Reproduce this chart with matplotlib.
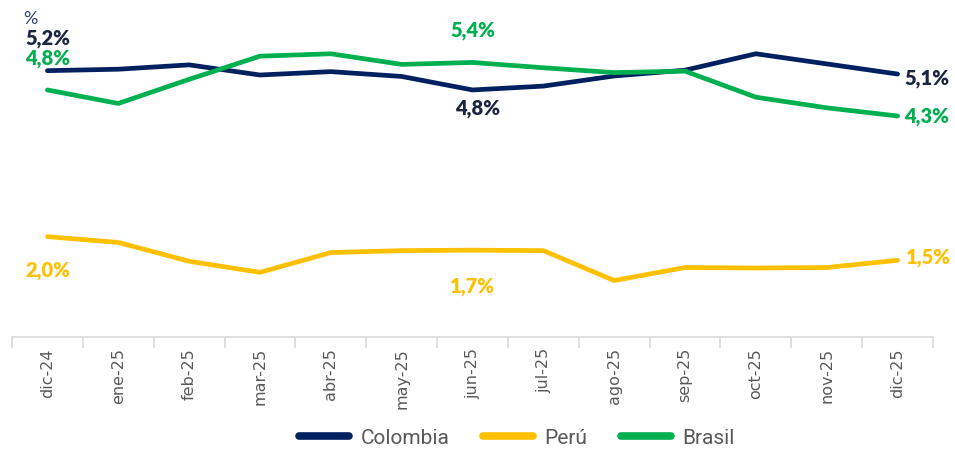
import matplotlib.pyplot as plt
import numpy as np

# Monthly values (%)
meses = ['dic-24', 'ene-25', 'feb-25', 'mar-25', 'abr-25', 'may-25', 'jun-25',
         'jul-25', 'ago-25', 'sep-25', 'oct-25', 'nov-25', 'dic-25']
colombia = [5.20, 5.23, 5.32, 5.11, 5.18, 5.08, 4.80, 4.88, 5.09, 5.21, 5.55, 5.34, 5.13]
brasil = [4.80, 4.52, 5.02, 5.50, 5.55, 5.33, 5.37, 5.26, 5.16, 5.19, 4.65, 4.43, 4.26]
peru = [2.00, 1.88, 1.49, 1.26, 1.67, 1.71, 1.72, 1.71, 1.09, 1.36, 1.35, 1.36, 1.51]

c_col = '#002060'
c_per = '#FFC000'
c_bra = '#00B050'
lbl_font = ['Lato', 'DejaVu Sans']
leg_font = ['Liberation Sans Narrow', 'Roboto', 'DejaVu Sans']

fig = plt.figure(figsize=(9.55, 4.53), dpi=100)
ax = fig.add_axes([12 / 955, 1 - 337 / 453, 921 / 955, 317 / 453])
ax2 = ax.twinx()  # Peru on a hidden secondary axis

x = np.arange(len(meses))
l1, = ax.plot(x, colombia, color=c_col, lw=3.4, solid_capstyle='round', solid_joinstyle='round', label='Colombia')
l3, = ax.plot(x, brasil, color=c_bra, lw=3.4, solid_capstyle='round', solid_joinstyle='round', label='Brasil')
l2, = ax2.plot(x, peru, color=c_per, lw=3.4, solid_capstyle='round', solid_joinstyle='round', label='Perú')

ax.set_xlim(-0.5, len(meses) - 0.5)
ax.set_ylim(-0.32, 6.25)
ax2.set_ylim(-0.08, 6.49)

for a in (ax, ax2):
    for s in ['top', 'right', 'left']:
        a.spines[s].set_visible(False)
    a.set_yticks([])
ax2.spines['bottom'].set_visible(False)
ax.spines['bottom'].set_color('#D9D9D9')
ax.spines['bottom'].set_linewidth(1.2)

ax.set_xticks(x)
ax.set_xticklabels(meses, rotation=90, fontsize=11.5, color='#595959')
ax.tick_params(axis='x', which='major', length=0, pad=8)
ax.set_xticks(np.arange(-0.5, len(meses)), minor=True)
ax.tick_params(axis='x', which='minor', length=8, color='#D9D9D9', width=1.2)


def etiqueta(a, i, vals, color, dx, dy, ha='center'):
    a.annotate(f'{vals[i]:.1f}%'.replace('.', ','), (x[i], vals[i]),
               xytext=(dx, dy), textcoords='offset points', ha=ha, va='center',
               fontsize=14.5, fontweight='heavy', color=color, family=lbl_font)


etiqueta(ax, 0, colombia, '#1C2541', 0, 23.5)
etiqueta(ax, 6, colombia, '#1C2541', 4, -13.5)
etiqueta(ax, 12, colombia, '#1C2541', 5, -3, ha='left')
etiqueta(ax, 0, brasil, c_bra, 0, 23)
etiqueta(ax, 6, brasil, c_bra, 0, 23)
etiqueta(ax, 12, brasil, c_bra, 5, 0, ha='left')
etiqueta(ax2, 0, peru, c_per, 0, -24.5)
etiqueta(ax2, 6, peru, c_per, 0, -26.5)
etiqueta(ax2, 12, peru, c_per, 6, 2, ha='left')

fig.text(30 / 955, 1 - 19 / 453, '%', ha='center', va='center', fontsize=13,
         color='#2F3F7A', family=lbl_font)

leg = fig.legend([l1, l2, l3], ['Colombia', 'Perú', 'Brasil'], loc='center',
                 bbox_to_anchor=(517 / 955, 1 - 438 / 453), ncol=3, frameon=False,
                 handlelength=2.4, columnspacing=1.6, handletextpad=0.55,
                 prop={'family': leg_font, 'size': 15})
for t in leg.get_texts():
    t.set_color('#595959')
for h in leg.legend_handles:
    h.set_linewidth(5.5)
    h.set_solid_capstyle('round')

fig.savefig('out.png', dpi=100)
